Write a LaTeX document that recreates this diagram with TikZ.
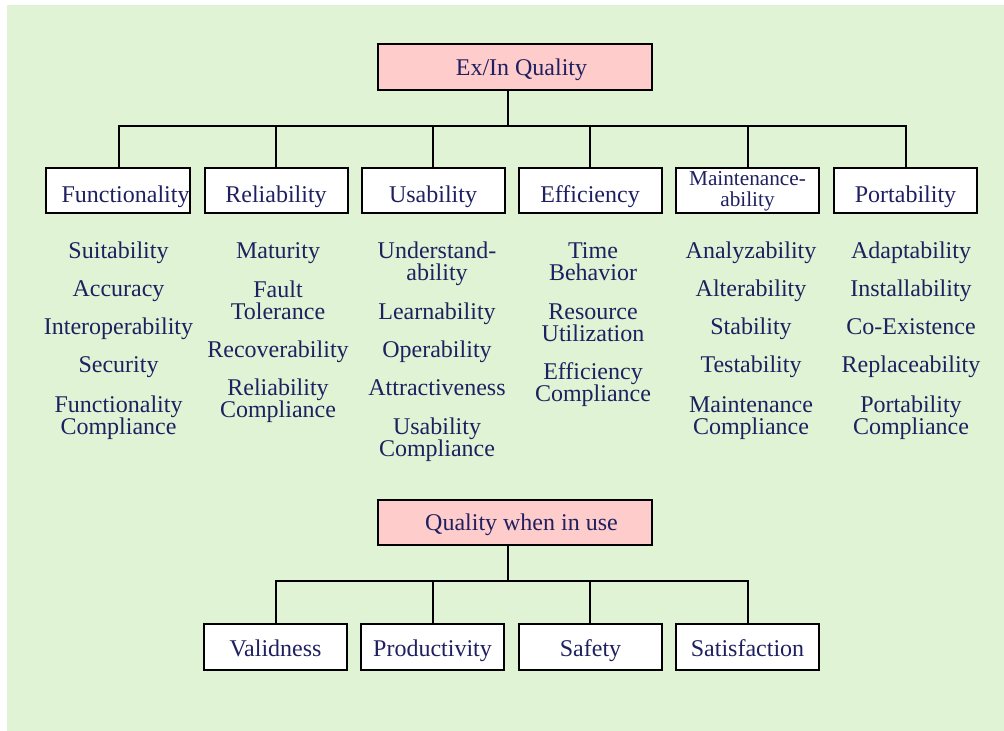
\documentclass[tikz,border=0pt]{standalone}
\usepackage{fontspec}
\setmainfont{Liberation Serif}
\definecolor{bggreen}{HTML}{E0F3D5}
\definecolor{hdrpink}{HTML}{FFCCCC}
\definecolor{txtnavy}{HTML}{1F2060}
\newcommand{\sr}{\rule[-2.2pt]{0pt}{7pt}}
\newcommand{\brk}{\\\sr}
\newcommand{\srm}{\rule[-2pt]{0pt}{6pt}}
\AtBeginDocument{\lineskiplimit=-20pt\relax}
\begin{document}
\begin{tikzpicture}[x=0.4pt,y=-0.4pt,
  every node/.style={text=txtnavy, font=\fontsize{9.6}{8.8}\selectfont},
  catbox/.style={draw=black, line width=0.8pt, fill=white, minimum width=57.2pt, inner xsep=0pt, inner ysep=0pt, text height=14pt, text depth=4pt},
  lowbox/.style={catbox, text height=13.2pt, text depth=5.2pt},
  topbox/.style={draw=black, line width=0.8pt, fill=hdrpink, minimum width=109.6pt, inner xsep=0pt, inner ysep=0pt, text height=12.8pt, text depth=5.6pt},
  item/.style={align=center, inner sep=0pt, execute at begin node=\sr},
  conn/.style={draw=black, line width=0.8pt}
]
\useasboundingbox (0,0) rectangle (1004,731);
\fill[bggreen] (7,5) rectangle (1004,731);

% top tree
\node[topbox] (top) at (515,67) {\hspace*{5.2pt}Ex/In Quality};
\coordinate (bus) at (508,126);
\node[catbox] (f) at (117.5,190.5) {\hspace*{6.4pt}Functionality};
\node[catbox] (r) at (276,190.5) {Reliability};
\node[catbox] (u) at (433,190.5) {Usability};
\node[catbox] (e) at (590,190.5) {Efficiency};
\node[draw=black, line width=0.8pt, fill=white, minimum width=57.2pt, minimum height=18pt, inner sep=0pt, align=center, font=\fontsize{8.5}{8.7}\selectfont] (m) at (747.5,190.5) {\rule[-2pt]{0pt}{8.4pt}Maintenance-\\\srm ability};
\node[catbox] (p) at (905.5,190.5) {Portability};
\draw[conn] (top.south -| bus) -- (bus);
\foreach \n/\xx in {f/119,r/276,u/433,e/590,m/748,p/906}{
  \draw[conn] (\xx,168) -- (\xx,126) -- (bus);
}

% Functionality items
\node[item] (f1) at (118.5,253) {Suitability};
\node[item] (f2) at (118.5,291) {Accuracy};
\node[item] (f3) at (118.5,329) {Interoperability};
\node[item] (f4) at (118.5,367) {Security};
\node[item] (f5) at (118.5,418) {Functionality\brk Compliance};
% Reliability items
\node[item] (r1) at (278,253) {Maturity};
\node[item] (r2) at (278,303) {Fault\brk Tolerance};
\node[item] (r3) at (278,352) {Recoverability};
\node[item] (r4) at (278,401) {Reliability\brk Compliance};
% Usability items
\node[item] (u1) at (437,264) {Understand-\brk ability};
\node[item] (u2) at (437,314) {Learnability};
\node[item] (u3) at (437,352) {Operability};
\node[item] (u4) at (437,390) {Attractiveness};
\node[item] (u5) at (437,440) {Usability\brk Compliance};
% Efficiency items
\node[item] (e1) at (593,264) {Time\brk Behavior};
\node[item] (e2) at (593,325) {Resource\brk Utilization};
\node[item] (e3) at (593,385) {Efficiency\brk Compliance};
% Maintenance items
\node[item] (m1) at (751,253) {Analyzability};
\node[item] (m2) at (751,291) {Alterability};
\node[item] (m3) at (751,329) {Stability};
\node[item] (m4) at (751,367) {Testability};
\node[item] (m5) at (751,418) {Maintenance\brk Compliance};
% Portability items
\node[item] (p1) at (911,253) {Adaptability};
\node[item] (p2) at (911,291) {Installability};
\node[item] (p3) at (911,329) {Co-Existence};
\node[item] (p4) at (911,367) {Replaceability};
\node[item] (p5) at (911,418) {Portability\brk Compliance};

% bottom tree
\node[topbox, text height=12pt, text depth=6pt] (q) at (515,522.5) {\hspace*{5.2pt}Quality when in use};
\coordinate (bus2) at (508,581);
\node[lowbox] (v) at (275.5,646.5) {Validness};
\node[lowbox] (pr) at (432.5,646.5) {Productivity};
\node[lowbox] (s) at (590.5,646.5) {Safety};
\node[lowbox] (sa) at (747.5,646.5) {Satisfaction};
\draw[conn] (q.south -| bus2) -- (bus2);
\foreach \n/\xx in {v/276,pr/433,s/590,sa/748}{
  \draw[conn] (\xx,624) -- (\xx,581) -- (bus2);
}
\end{tikzpicture}
\end{document}
